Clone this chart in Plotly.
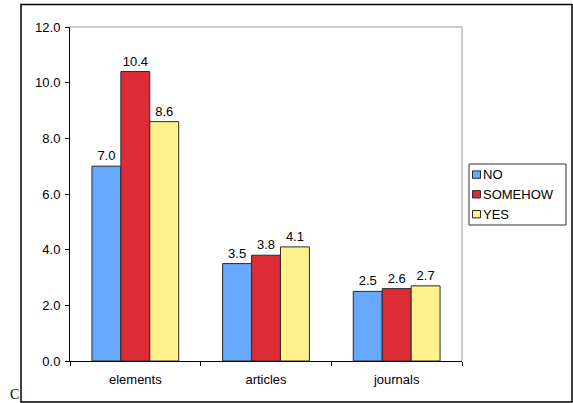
import plotly.graph_objects as go

categories = ["elements", "articles", "journals"]
series_names = ["NO", "SOMEHOW", "YES"]
no_values = [7.0, 3.5, 2.5]
somehow_values = [10.4, 3.8, 2.6]
yes_values = [8.6, 4.1, 2.7]
y_ticks = [0, 2, 4, 6, 8, 10, 12]

colors = ["#66A9FF", "#DD2C35", "#FFF28C"]
font_family = "Liberation Sans, Arial, sans-serif"

fig = go.Figure()
for name, vals, col in zip(series_names, [no_values, somehow_values, yes_values], colors):
    fig.add_trace(go.Bar(
        name=name,
        x=categories,
        y=vals,
        marker=dict(color=col, line=dict(color="#2a2a2a", width=1)),
        texttemplate="%{y:.1f}",
        textposition="outside",
        textfont=dict(size=13, color="black", family=font_family),
        cliponaxis=False,
        showlegend=False,
    ))

W, H = 573, 403
L, R, T, B = 70, 111, 27, 42
pw, ph = W - L - R, H - T - B


def px_x(p):
    return (p - L) / pw


def px_y(p):
    return (H - B - p) / ph


shapes = [
    # outer frame
    dict(type="rect", xref="paper", yref="paper",
         x0=px_x(21), x1=px_x(572), y0=px_y(402), y1=px_y(4.5),
         line=dict(color="black", width=1.5), layer="below"),
    # light border on top and right of the plot area
    dict(type="line", xref="paper", yref="paper", x0=0, x1=1, y0=1, y1=1,
         line=dict(color="#BDBDBD", width=1.5)),
    dict(type="line", xref="paper", yref="paper", x0=1, x1=1, y0=0, y1=1,
         line=dict(color="#BDBDBD", width=1.5)),
    # legend box
    dict(type="rect", xref="paper", yref="paper",
         x0=px_x(469), x1=px_x(566), y0=px_y(225), y1=px_y(164),
         line=dict(color="#333333", width=1), fillcolor="white"),
]

annotations = [
    dict(text="C", xref="paper", yref="paper", x=px_x(14.5), y=px_y(403),
         showarrow=False, xanchor="center", yanchor="bottom", borderpad=0,
         font=dict(family="Liberation Serif, serif", size=14, color="black")),
]

# legend entries: swatch + label
row_y = [174.6, 194.3, 214.2]
for name, col, ry in zip(series_names, colors, row_y):
    shapes.append(dict(type="rect", xref="paper", yref="paper",
                       x0=px_x(472.5), x1=px_x(480.5),
                       y0=px_y(ry + 3.7), y1=px_y(ry - 3.7),
                       line=dict(color="#2a2a2a", width=1), fillcolor=col))
    annotations.append(dict(text=name, xref="paper", yref="paper",
                            x=px_x(481), y=px_y(ry), showarrow=False,
                            xanchor="left", yanchor="middle",
                            font=dict(size=13, family=font_family, color="black")))

fig.update_layout(
    width=W, height=H,
    margin=dict(l=L, r=R, t=T, b=B, autoexpand=False),
    paper_bgcolor="white", plot_bgcolor="white",
    barmode="group",
    bargap=0.336, bargroupgap=0,
    font=dict(family=font_family, size=13, color="black"),
    showlegend=False,
    shapes=shapes,
    annotations=annotations,
    xaxis=dict(
        showline=True, linecolor="black", linewidth=1,
        ticks="outside", tickson="boundaries", ticklen=4, tickcolor="black",
        showgrid=False, tickfont=dict(size=13), ticklabelstandoff=6,
    ),
    yaxis=dict(
        range=[0, 12], tickvals=y_ticks, tickformat=".1f",
        showline=True, linecolor="black", linewidth=1,
        ticks="outside", ticklen=4, tickcolor="black",
        showgrid=False, zeroline=False, tickfont=dict(size=13),
        ticklabelstandoff=2,
    ),
)

fig.write_html("out.html")
